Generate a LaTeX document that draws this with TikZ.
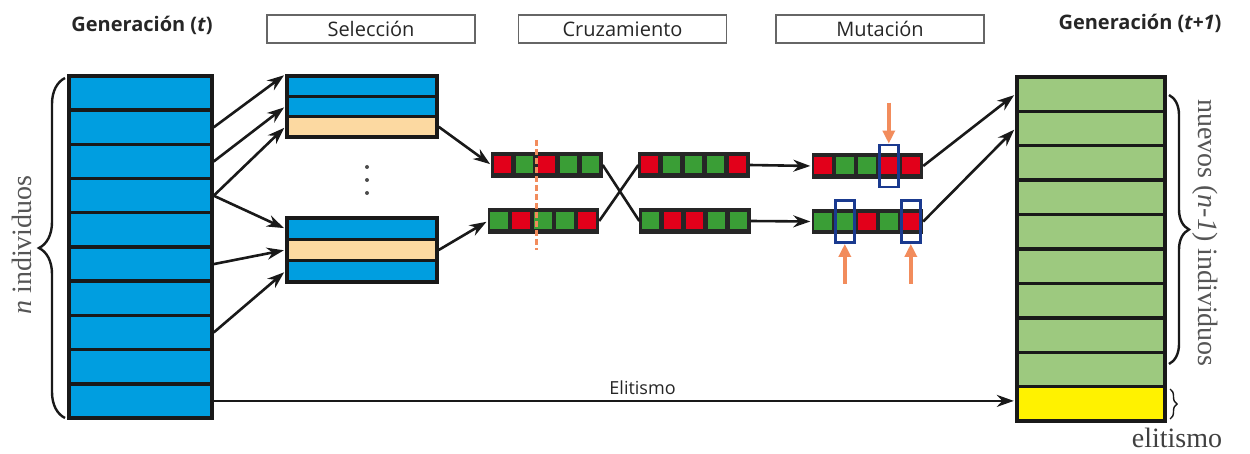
\documentclass[tikz,border=0pt]{standalone}
\usepackage{fontspec}
\setmainfont{Liberation Serif}
\newfontfamily\headfont{Open Sans}
\usetikzlibrary{arrows.meta,calc,decorations.pathreplacing}

\definecolor{popblue}{HTML}{009EE0}
\definecolor{selbeige}{HTML}{FCD9A1}
\definecolor{newgreen}{HTML}{9DC97F}
\definecolor{eliteyellow}{HTML}{FFF200}
\definecolor{genR}{HTML}{E2001A}
\definecolor{genG}{HTML}{3A9E36}
\definecolor{marknavy}{HTML}{1A3A8F}
\definecolor{cutorange}{HTML}{F28C5C}
\definecolor{inkgray}{HTML}{555555}

% one chromosome: name, x, y, list of gene colours (R/G)
\newcommand{\drawchromosome}[4]{%
  \node[chrom] (#1) at (#2,#3) {};
  \foreach \g [count=\k from 0] in {#4}
    \node[genecell,fill=gen\g] (#1-\k) at ($(#1.west)+({11+22*\k},0)$) {};
}

\begin{document}
\begin{tikzpicture}[x=1pt,y=-1pt,
  poprow/.style={draw=black!90,line width=3.4pt,inner sep=0pt,
    minimum width=143pt,minimum height=34.2pt,fill=popblue},
  newrow/.style={poprow,minimum width=148pt,minimum height=34.4pt,fill=newgreen},
  selrow/.style={draw=black!90,line width=3.4pt,inner sep=0pt,
    minimum width=150pt,minimum height=20.3pt,fill=popblue},
  chrom/.style={draw=black!85,fill=black!85,line width=1.4pt,
    minimum width=110pt,minimum height=24pt,inner sep=0pt},
  genecell/.style={minimum width=17.5pt,minimum height=17pt,inner sep=0pt},
  markbox/.style={draw=marknavy,line width=2.8pt,minimum width=19pt,
    minimum height=42pt,inner sep=0pt},
  flow/.style={draw=black!90,line width=2.6pt,shorten >=1.5pt,
    -{Stealth[length=17pt,width=12pt]}},
  cross/.style={draw=black!90,line width=2.6pt},
  mutarrow/.style={draw=cutorange,line width=3.4pt,
    -{Triangle[length=13pt,width=12pt]}},
  cutline/.style={draw=cutorange,line width=3pt,dash pattern=on 6pt off 3pt},
  stage/.style={draw=black!60,line width=1.8pt,minimum width=208pt,
    minimum height=28pt,inner sep=0pt,text=black!85,
    font=\headfont\fontsize{20}{20}\selectfont},
  gentitle/.style={text=black!85,font=\headfont\bfseries\fontsize{20}{20}\selectfont},
  sidelabel/.style={text=inkgray,font=\fontsize{28}{28}\selectfont,inner sep=0pt},
  bracestyle/.style={decorate,decoration={brace,amplitude=#1},
    draw=black!90,line width=2.4pt}
]
\useasboundingbox (0,0) rectangle (1250,454);

% ---- titles and stage labels
\node[gentitle] (gt) at (142,25) {Generación (\textit{t})};
\node[gentitle] (gt1) at (1140,23) {Generación (\textit{t+1})};
\node[stage] (selstage) at (371,29) {Selección};
\node[stage] (crustage) at (622.5,29) {Cruzamiento};
\node[stage] (mutstage) at (880,29) {Mutación};

% ---- population at generation t
\foreach \i in {1,...,10}
  \node[poprow] (r\i) at (140.5,{76+34.2*(\i-0.5)}) {};

% ---- population at generation t+1
\foreach \i in {1,...,9}
  \node[newrow] (n\i) at (1091,{77+34.4*(\i-0.5)}) {};
\node[newrow,fill=eliteyellow] (n10) at (1091,{77+34.4*9.5}) {};

% ---- selected groups
\node[selrow] (s1a) at (362,86.2) {};
\node[selrow] (s1b) at (362,106.5) {};
\node[selrow,fill=selbeige] (s1c) at (362,126.8) {};
\node[selrow,minimum height=21.3pt] (s2a) at (362,228.7) {};
\node[selrow,minimum height=21.3pt,fill=selbeige] (s2b) at (362,250) {};
\node[selrow,minimum height=21.3pt] (s2c) at (362,271.3) {};
\foreach \d in {167,180,193}
  \fill[black!70] (367,\d) circle (2pt);

% ---- chromosomes
\drawchromosome{p1}{547}{165}{R,G,R,G,G}
\drawchromosome{p2}{543.5}{221}{G,R,G,G,R}
\drawchromosome{c1}{694}{165}{R,G,G,G,R}
\drawchromosome{c2}{695}{221}{G,R,R,G,G}
\drawchromosome{m1}{867.5}{166}{R,G,G,R,R}
\drawchromosome{m2}{867.5}{221.5}{G,G,R,G,R}

% crossover point
\coordinate (cutT) at (536,140);
\coordinate (cutB) at (536,250);
\draw[cutline] (cutT) -- (cutB);

% mutated genes
\node[markbox] (mk1) at (m1-3) {};
\node[markbox] (mk2) at (m2-1) {};
\node[markbox] (mk3) at (m2-4) {};
\coordinate (o1) at ($(mk1.north)+(0,-41)$);
\coordinate (o2) at ($(mk2.south)+(0,40)$);
\coordinate (o3) at ($(mk3.south)+(0,40)$);
\draw[mutarrow] (o1) -- (mk1.north);
\draw[mutarrow] (o2) -- (mk2.south);
\draw[mutarrow] (o3) -- (mk3.south);

% ---- connectors
\draw[flow] (r2.east) -- (s1a.north west);
\draw[flow] (r3.east) -- (s1b.west);
\draw[flow] (r4.east) -- (s1c.west);
\draw[flow] (r4.east) -- (s2a.west);
\draw[flow] (r6.east) -- (s2b.west);
\draw[flow] (r8.east) -- (s2c.west);
\draw[flow] (s1c.east) -- (p1.west);
\draw[flow] (s2b.east) -- (p2.west);
\draw[cross] (p1.east) -- (c2.west);
\draw[cross] (p2.east) -- (c1.west);
\draw[flow] (c1.east) -- (m1.west);
\draw[flow] (c2.east) -- (m2.west);
\draw[flow] (m1.east) -- (n1.west);
\draw[flow] (m2.east) -- (n2.west);
\draw[flow] (r10.east) -- (r10.east -| n10.west)
  node[pos=0.535,above=2pt,text=black!85,
       font=\headfont\fontsize{18}{18}\selectfont] (elitlabel) {Elitismo};

% ---- braces and side labels
\draw[bracestyle=26] (65,418) -- (65,78);
\node[sidelabel,rotate=90] (nlabel) at (22,245) {\textit{n} individuos};
\draw[bracestyle=20] (1169,95) -- (1169,364);
\node[sidelabel,rotate=-90] (nuevos) at (1205,233)
  {nuevos (\textit{n-1}) individuos};
\draw[bracestyle=7,line width=1.4pt] (1170,389) -- (1170,419);
\node[sidelabel,text=black!75] (elitnote) at (1177,438) {elitismo};
\end{tikzpicture}
\end{document}
